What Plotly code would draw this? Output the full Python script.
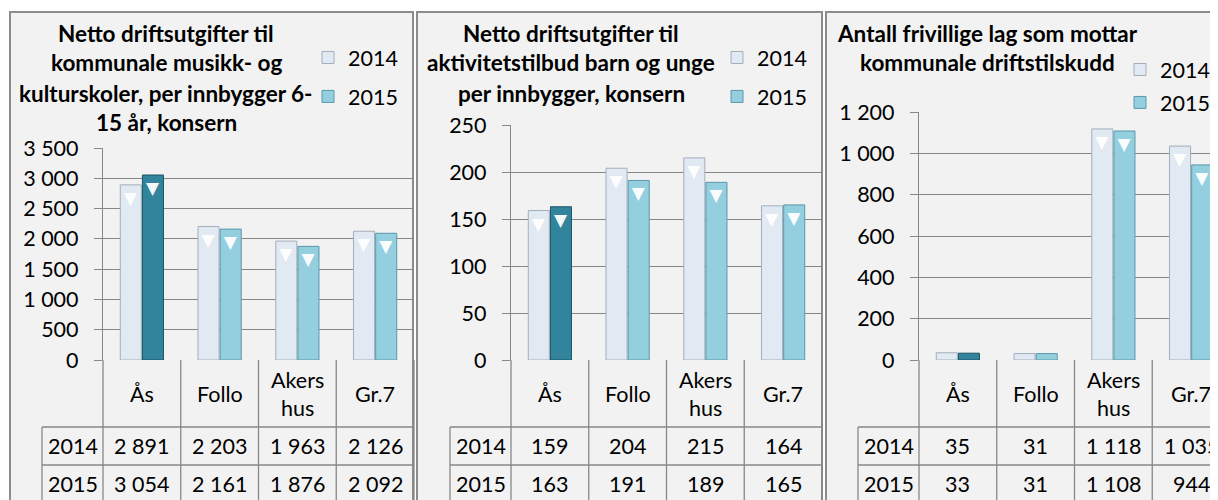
import plotly.graph_objects as go

# --- data -----------------------------------------------------------------
categories = ["Ås", "Follo", "Akers<br>hus", "Gr.7"]
years = ["2014", "2015"]

musikk_2014 = [2891, 2203, 1963, 2126]
musikk_2015 = [3054, 2161, 1876, 2092]

aktivitet_2014 = [159, 204, 215, 164]
aktivitet_2015 = [163, 191, 189, 165]

lag_2014 = [35, 31, 1118, 1035]
lag_2015 = [33, 31, 1108, 944]

title_musikk = ["Netto driftsutgifter til", "kommunale musikk- og",
                "kulturskoler, per innbygger 6-", "15 år, konsern"]
title_aktivitet = ["Netto driftsutgifter til", "aktivitetstilbud barn og unge",
                   "per innbygger, konsern"]
title_lag = ["Antall frivillige lag som mottar", "kommunale driftstilskudd"]

y_top = [3500, 250, 1200]
y_step = [500, 50, 200]

# --- look -----------------------------------------------------------------
W, H = 1218, 500
OFF = 8  # page margin around the plot div
FONT = "Lato, 'Open Sans', sans-serif"
TXT = 21.5
GRID = "#878787"
BG = "#f2f2f2"
C2014, C2014_LINE = "#e1e9f3", "#a4aebb"
C2015, C2015_LINE = "#93cfdf", "#5b98a9"
C_AAS, C_AAS_LINE = "#31849b", "#1d5566"
HIGHLIGHT = "Ås"

# positions below are in screen pixels of the finished picture
PANEL_L = [10, 417, 826]
PANEL_R = [413, 822, 1240]
AXIS_L = [103, 511, 919]
COL_W = 77.75
PLOT_TOP = [148, 125, 112]
ZERO_Y, HEAD_Y, ROW1_Y, ROW2_Y = 360, 427, 465, 510
ROWLBL_W = 61
TITLE_CX = [166, 571, 987]
TITLE_Y0 = 33
TITLE_DY = 30
LEGEND_XY = [(308, 37), (717, 37), (1120, 49)]
LEGEND_GAP = [8, 8, 2]


def px(x):
    return (x - OFF) / W


def py(y):
    return 1 - (y - OFF) / H


def fmt(v):
    return f"{v:,}".replace(",", "\u00a0")


series = [(musikk_2014, musikk_2015), (aktivitet_2014, aktivitet_2015), (lag_2014, lag_2015)]
titles = [title_musikk, title_aktivitet, title_lag]

fig = go.Figure()
shapes, annotations = [], []
layout = {}

for p, (v14, v15) in enumerate(series):
    n = p + 1
    xid = "x" if n == 1 else f"x{n}"
    yid = "y" if n == 1 else f"y{n}"
    xkey = "xaxis" if n == 1 else f"xaxis{n}"
    ykey = "yaxis" if n == 1 else f"yaxis{n}"
    leg = "legend" if n == 1 else f"legend{n}"
    ax_l = AXIS_L[p]
    ax_r = min(W + OFF, ax_l + len(categories) * COL_W)

    layout[xkey] = dict(
        domain=[px(ax_l), px(ax_r)], range=[-0.5, -0.5 + (ax_r - ax_l) / COL_W],
        type="category", categoryorder="array", categoryarray=categories,
        showticklabels=False, showgrid=False, zeroline=False, showline=False,
        anchor=yid, fixedrange=True,
    )
    layout[ykey] = dict(
        domain=[py(ZERO_Y), py(PLOT_TOP[p])], range=[0, y_top[p]],
        tick0=0, dtick=y_step[p], separatethousands=True,
        showgrid=True, gridcolor=GRID, gridwidth=1.3,
        showline=True, linecolor=GRID, linewidth=1.3, zeroline=False,
        ticks="outside", ticklen=8, tickcolor=GRID, tickwidth=1.3,
        ticklabelstandoff=11, tickfont=dict(size=TXT, color="#000"),
        anchor=xid, fixedrange=True,
    )

    # reversed order so the legend icon takes a non-highlighted colour
    col15 = [C_AAS if c == HIGHLIGHT else C2015 for c in categories]
    line15 = [C_AAS_LINE if c == HIGHLIGHT else C2015_LINE for c in categories]
    for year, vals, col, lcol in [("2014", v14, [C2014] * 4, [C2014_LINE] * 4),
                                  ("2015", v15, col15, line15)]:
        # white bevel tip at the top of every bar that is tall enough for it
        tip_pos = ["inside" if v > 0.08 * y_top[p] else "none" for v in vals]
        fig.add_trace(go.Bar(
            x=categories[::-1], y=vals[::-1], name=year,
            marker=dict(color=col[::-1], line=dict(color=lcol[::-1], width=1)),
            text=["▼"] * len(vals), textposition=tip_pos[::-1], insidetextanchor="end",
            textangle=0, textfont=dict(family="DejaVu Sans", size=17,
                                       color="rgba(255,255,255,0.95)"),
            xaxis=xid, yaxis=yid, legend=leg, legendgroup=f"{n}-{year}",
            offsetgroup=year, hoverinfo="skip",
        ))

    lx, ly = LEGEND_XY[p]
    layout[leg] = dict(
        x=px(lx), y=py(ly), xanchor="left", yanchor="top",
        bgcolor="rgba(0,0,0,0)", font=dict(size=TXT, color="#000"),
        tracegroupgap=LEGEND_GAP[p], itemwidth=30, traceorder="grouped",
    )

    # panel frame
    shapes.append(dict(type="rect", xref="paper", yref="paper",
                       x0=px(PANEL_L[p]), x1=px(PANEL_R[p]), y0=py(530), y1=py(12),
                       fillcolor=BG, line=dict(color="#8c8c8c", width=2), layer="below"))

    # data table grid
    tl = dict(color=GRID, width=1.3)
    for k in range(len(categories) + 1):
        xk = px(ax_l + k * COL_W)
        shapes.append(dict(type="line", xref="paper", yref="paper", x0=xk, x1=xk,
                           y0=py(ZERO_Y), y1=py(ROW2_Y), line=tl))
    shapes.append(dict(type="line", xref="paper", yref="paper",
                       x0=px(ax_l - ROWLBL_W), x1=px(ax_l - ROWLBL_W),
                       y0=py(HEAD_Y), y1=py(ROW2_Y), line=tl))
    for yy in (HEAD_Y, ROW1_Y):
        shapes.append(dict(type="line", xref="paper", yref="paper",
                           x0=px(ax_l - ROWLBL_W), x1=px(ax_l + len(categories) * COL_W),
                           y0=py(yy), y1=py(yy), line=tl))

    base = dict(showarrow=False, xanchor="center", yanchor="middle",
                font=dict(size=TXT, color="#000"))
    row_mid = [(ZERO_Y + HEAD_Y) / 2, (HEAD_Y + ROW1_Y) / 2, (ROW1_Y + 503) / 2]
    for j, cat in enumerate(categories):
        for text, yy in zip([cat, fmt(v14[j]), fmt(v15[j])], row_mid):
            annotations.append(dict(base, xref=xid, yref="paper", x=j, y=py(yy), text=text))
    for yr, yy in zip(years, row_mid[1:]):
        annotations.append(dict(base, xref="paper", yref="paper",
                                x=px(ax_l - ROWLBL_W / 2), y=py(yy), text=yr))

    # title
    for k, line in enumerate(titles[p]):
        annotations.append(dict(showarrow=False, xref="paper", yref="paper",
                                xanchor="center", yanchor="middle",
                                x=px(TITLE_CX[p]), y=py(TITLE_Y0 + k * TITLE_DY),
                                text=f"<b>{line}</b>", font=dict(size=22.5, color="#000")))

fig.update_layout(
    width=W, height=H, margin=dict(l=0, r=0, t=0, b=0, autoexpand=False),
    paper_bgcolor="white", plot_bgcolor="rgba(0,0,0,0)",
    font=dict(family=FONT, color="#000"),
    barmode="group", bargap=0.43, bargroupgap=0.05,
    separators=", ", hovermode=False,
    shapes=shapes, annotations=annotations,
    **layout,
)

fig.write_html("out.html")
